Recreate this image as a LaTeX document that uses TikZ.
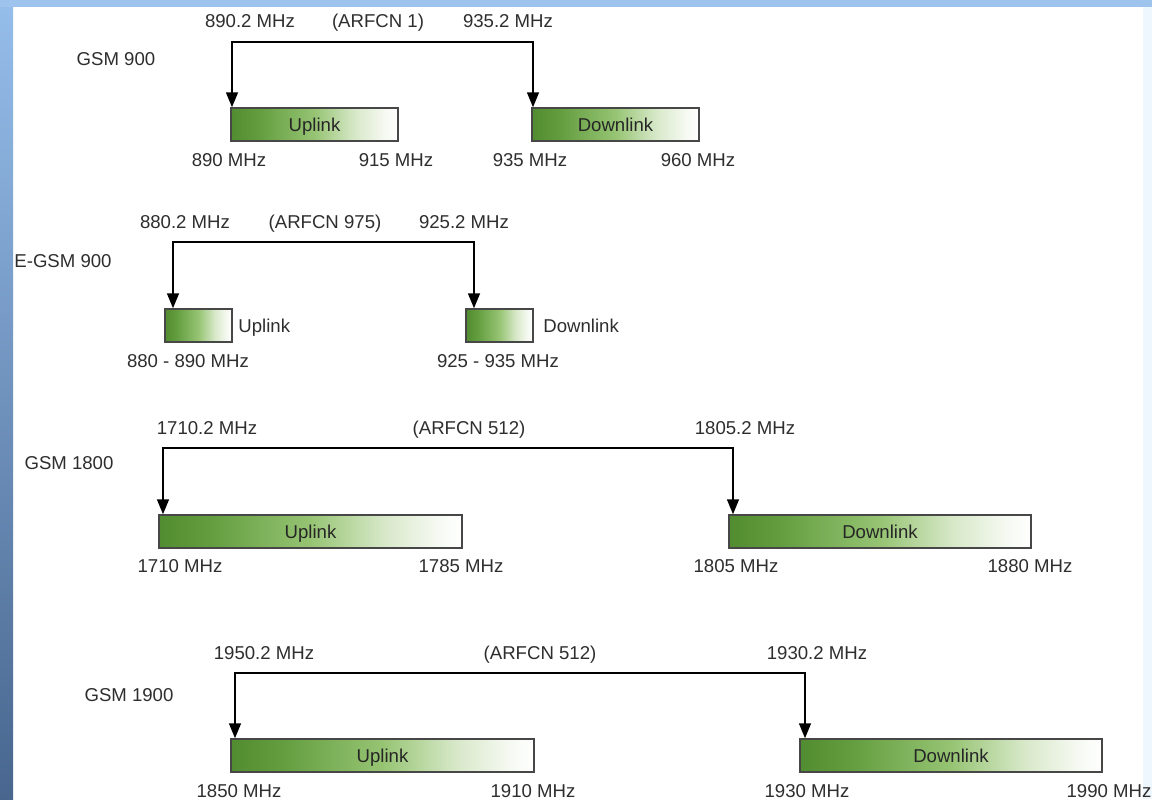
\documentclass[tikz,border=0pt]{standalone}
\usepackage{fontspec}
\setmainfont{Liberation Sans}
\usetikzlibrary{arrows.meta}
\definecolor{gA}{RGB}{82,140,48}
\definecolor{gA2}{RGB}{98,156,62}
\definecolor{gB}{RGB}{150,196,115}
\definecolor{gC}{RGB}{215,232,200}
\definecolor{gD}{RGB}{246,249,242}
\definecolor{bandTop}{RGB}{150,190,235}
\definecolor{bandBot}{RGB}{72,102,142}
\definecolor{topBand}{RGB}{158,196,238}
\definecolor{edgeBlue}{RGB}{238,246,254}
\pgfdeclarehorizontalshading{bandshade}{100bp}{color(0bp)=(gA); color(25bp)=(gA); color(33bp)=(gA2); color(50bp)=(gB); color(62bp)=(gC); color(71bp)=(gD); color(75bp)=(white); color(100bp)=(white)}
\tikzset{
  lbl/.style={font=\fontsize{9.3}{11}\selectfont, text=black!82, inner sep=0pt, text height=6.7pt, text depth=0pt},
  bandbox/.style={draw=black!72, line width=0.75pt, shading=bandshade, minimum height=16.5pt, inner sep=0pt, font=\fontsize{9.3}{11}\selectfont, text=black!85, text height=6.7pt, text depth=0pt},
  arr/.style={line width=0.75pt, {Triangle[length=7.5pt,width=6pt]}-{Triangle[length=7.5pt,width=6pt]}}
}
\begin{document}
\begin{tikzpicture}[x=0.5pt,y=-0.5pt]
\useasboundingbox (0,0) rectangle (1152,799);
\fill[white] (0,0) rectangle (1152,799);
% frame bands
\fill[edgeBlue] (1143,0) rectangle (1152,799);
\shade[top color=bandTop, bottom color=bandBot] (0,0) rectangle (13,799);
\fill[topBand] (0,0) rectangle (1152,7);

% ---------- GSM 900 ----------
\node[lbl] (g1) at (116,59) {GSM 900};
\node[lbl] (g1a) at (250,21) {890.2 MHz};
\node[lbl] (g1b) at (378,21) {(ARFCN 1)};
\node[lbl] (g1c) at (508,21) {935.2 MHz};
\node[bandbox, minimum width=83.5pt] (ul1) at (314.5,124.5) {Uplink};
\node[bandbox, minimum width=83.5pt] (dl1) at (615.5,124.5) {Downlink};
\coordinate (t1l) at (232,42);
\coordinate (t1r) at (533,42);
\draw[arr] (t1l |- ul1.north) -- (t1l) -- (t1r) -- (t1r |- dl1.north);
\node[lbl] (g1d) at (229,160) {890 MHz};
\node[lbl] (g1e) at (396,160) {915 MHz};
\node[lbl] (g1f) at (530,160) {935 MHz};
\node[lbl] (g1g) at (698,160) {960 MHz};

% ---------- E-GSM 900 ----------
\node[lbl] (g2) at (63,261) {E-GSM 900};
\node[lbl] (g2a) at (185,222) {880.2 MHz};
\node[lbl] (g2b) at (325,222) {(ARFCN 975)};
\node[lbl] (g2c) at (464,222) {925.2 MHz};
\node[bandbox, minimum width=33.5pt] (ul2) at (198.5,325.5) {};
\node[bandbox, minimum width=33.5pt] (dl2) at (499.5,325.5) {};
\coordinate (t2l) at (173,242);
\coordinate (t2r) at (474,242);
\draw[arr] (t2l |- ul2.north) -- (t2l) -- (t2r) -- (t2r |- dl2.north);
\node[lbl, anchor=west] (g2u) at (238,326) {Uplink};
\node[lbl, anchor=west] (g2d) at (543,326) {Downlink};
\node[lbl] (g2e) at (188,361) {880 - 890 MHz};
\node[lbl] (g2f) at (498,361) {925 - 935 MHz};

% ---------- GSM 1800 ----------
\node[lbl] (g3) at (69,463) {GSM 1800};
\node[lbl] (g3a) at (207,428) {1710.2 MHz};
\node[lbl] (g3b) at (469,428) {(ARFCN 512)};
\node[lbl] (g3c) at (745,428) {1805.2 MHz};
\node[bandbox, minimum width=151.5pt] (ul3) at (310.5,531.5) {Uplink};
\node[bandbox, minimum width=151pt] (dl3) at (880,531.5) {Downlink};
\coordinate (t3l) at (163,448);
\coordinate (t3r) at (733,448);
\draw[arr] (t3l |- ul3.north) -- (t3l) -- (t3r) -- (t3r |- dl3.north);
\node[lbl] (g3d) at (180,566) {1710 MHz};
\node[lbl] (g3e) at (461,566) {1785 MHz};
\node[lbl] (g3f) at (736,566) {1805 MHz};
\node[lbl] (g3g) at (1030,566) {1880 MHz};

% ---------- GSM 1900 ----------
\node[lbl] (g4) at (129,695) {GSM 1900};
\node[lbl] (g4a) at (264,653) {1950.2 MHz};
\node[lbl] (g4b) at (540,653) {(ARFCN 512)};
\node[lbl] (g4c) at (817,653) {1930.2 MHz};
\node[bandbox, minimum width=151.5pt] (ul4) at (382.5,755.5) {Uplink};
\node[bandbox, minimum width=151pt] (dl4) at (951,755.5) {Downlink};
\coordinate (t4l) at (235,673);
\coordinate (t4r) at (805,673);
\draw[arr] (t4l |- ul4.north) -- (t4l) -- (t4r) -- (t4r |- dl4.north);
\node[lbl] (g4d) at (239,791) {1850 MHz};
\node[lbl] (g4e) at (533,791) {1910 MHz};
\node[lbl] (g4f) at (807,791) {1930 MHz};
\node[lbl] (g4g) at (1109,791) {1990 MHz};
\end{tikzpicture}
\end{document}
